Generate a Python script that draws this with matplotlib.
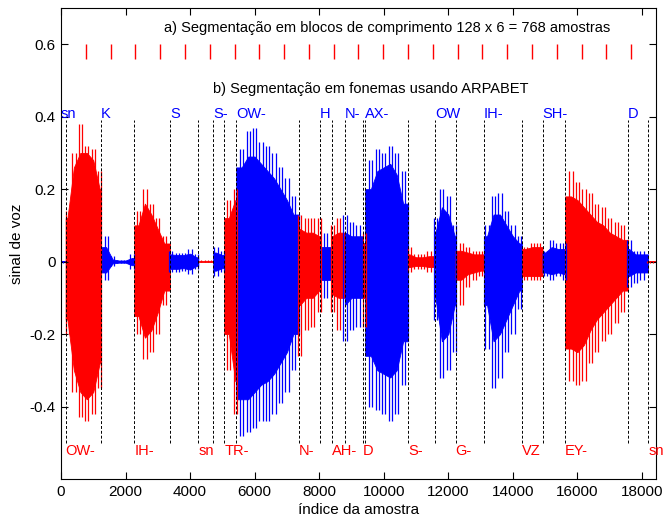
import numpy as np
import matplotlib.pyplot as plt

plt.rcParams['font.family'] = ['Liberation Sans', 'DejaVu Sans']
plt.rcParams['axes.unicode_minus'] = False

# envelope of the speech signal, every 200 samples
env_step = 200
env_top = [0.003, 0.14, 0.30, 0.38, 0.32, 0.31, 0.25, 0.07, 0.015, 0.005,
           0.005, 0.02, 0.14, 0.20, 0.16, 0.12, 0.07, 0.03, 0.025, 0.025,
           0.035, 0.02, 0.004, 0.004, 0.04, 0.03, 0.17, 0.20, 0.31, 0.36,
           0.37, 0.33, 0.32, 0.30, 0.26, 0.23, 0.18, 0.13, 0.12, 0.12,
           0.12, 0.08, 0.10, 0.12, 0.13, 0.11, 0.10, 0.08, 0.28, 0.31,
           0.30, 0.32, 0.30, 0.25, 0.04, 0.02, 0.02, 0.03, 0.12, 0.20,
           0.18, 0.10, 0.05, 0.04, 0.03, 0.03, 0.10, 0.18, 0.19, 0.14,
           0.10, 0.07, 0.04, 0.05, 0.05, 0.03, 0.06, 0.05, 0.05, 0.25,
           0.22, 0.20, 0.19, 0.16, 0.15, 0.12, 0.11, 0.10, 0.06, 0.03,
           0.03, 0.003, 0.003]
env_bot = [-0.003, -0.20, -0.36, -0.43, -0.44, -0.42, -0.35, -0.05, -0.012, -0.005,
           -0.005, -0.02, -0.20, -0.27, -0.25, -0.20, -0.12, -0.03, -0.03, -0.025,
           -0.035, -0.02, -0.002, -0.002, -0.04, -0.03, -0.30, -0.42, -0.48, -0.47,
           -0.46, -0.44, -0.44, -0.42, -0.39, -0.36, -0.30, -0.26, -0.19, -0.18,
           -0.14, -0.10, -0.14, -0.19, -0.22, -0.19, -0.18, -0.18, -0.40, -0.41,
           -0.42, -0.44, -0.42, -0.34, -0.03, -0.02, -0.02, -0.03, -0.16, -0.32,
           -0.30, -0.25, -0.12, -0.07, -0.05, -0.04, -0.24, -0.35, -0.32, -0.25,
           -0.20, -0.13, -0.05, -0.05, -0.05, -0.04, -0.05, -0.04, -0.05, -0.33,
           -0.34, -0.33, -0.28, -0.25, -0.22, -0.20, -0.17, -0.14, -0.07, -0.06,
           -0.05, -0.003, -0.003]
# dense (solid) part of the waveform
core_top = [0.001, 0.12, 0.26, 0.30, 0.30, 0.28, 0.20, 0.04, 0.006, 0.003,
            0.003, 0.01, 0.10, 0.16, 0.13, 0.09, 0.05, 0.02, 0.018, 0.018,
            0.022, 0.012, 0.003, 0.003, 0.025, 0.018, 0.12, 0.17, 0.26, 0.29,
            0.29, 0.27, 0.25, 0.23, 0.20, 0.17, 0.13, 0.09, 0.08, 0.08,
            0.07, 0.04, 0.07, 0.08, 0.08, 0.07, 0.07, 0.05, 0.20, 0.25,
            0.26, 0.27, 0.24, 0.16, 0.02, 0.012, 0.012, 0.015, 0.08, 0.15,
            0.13, 0.07, 0.03, 0.025, 0.02, 0.02, 0.07, 0.13, 0.13, 0.10,
            0.07, 0.05, 0.035, 0.04, 0.04, 0.025, 0.04, 0.035, 0.035, 0.18,
            0.17, 0.15, 0.13, 0.11, 0.10, 0.08, 0.07, 0.06, 0.035, 0.02,
            0.02, 0.001, 0.001]
core_bot = [-0.001, -0.16, -0.30, -0.36, -0.38, -0.36, -0.28, -0.03, -0.005, -0.003,
            -0.003, -0.01, -0.15, -0.21, -0.19, -0.14, -0.08, -0.02, -0.02, -0.018,
            -0.022, -0.012, 0.0, 0.0, -0.025, -0.018, -0.20, -0.33, -0.38, -0.38,
            -0.36, -0.34, -0.33, -0.31, -0.28, -0.25, -0.20, -0.12, -0.10, -0.10,
            -0.08, -0.05, -0.09, -0.10, -0.12, -0.10, -0.10, -0.10, -0.26, -0.30,
            -0.31, -0.32, -0.30, -0.22, -0.015, -0.012, -0.012, -0.015, -0.10, -0.22,
            -0.20, -0.12, -0.05, -0.035, -0.03, -0.025, -0.12, -0.22, -0.20, -0.16,
            -0.12, -0.08, -0.04, -0.04, -0.04, -0.03, -0.035, -0.03, -0.035, -0.24,
            -0.25, -0.23, -0.19, -0.16, -0.14, -0.12, -0.10, -0.08, -0.04, -0.03,
            -0.03, -0.001, -0.001]

# phoneme segmentation (start sample of each phoneme)
seg_start = [0, 146, 1239, 2270, 3376, 4252, 4717, 5057, 5429, 7380, 8030, 8383,
             8795, 9343, 9424, 10756, 11592, 12224, 13100, 14277, 14918, 15618,
             17569, 18188]
seg_label = ['sn', 'OW-', 'K', 'IH-', 'S', 'sn', 'S-', 'TR-', 'OW-', 'N-', 'H',
             'AH-', 'N-', 'D', 'AX-', 'S-', 'OW', 'G-', 'IH-', 'VZ', 'SH-', 'EY-',
             'D', 'sn']
n_samples = 18432
block_len = 768

fig = plt.figure(figsize=(6.65, 5.22), dpi=100)
ax = fig.add_axes([0.0917, 0.0824, 0.8947, 0.9023])

top = np.array(env_top)
bot = np.array(env_bot)
ctop = np.array(core_top)
cbot = np.array(core_bot)
x_env = np.arange(len(top)) * env_step
seg_end = seg_start[1:] + [n_samples]

for k, (a, b) in enumerate(zip(seg_start, seg_end)):
    col = 'b' if k % 2 == 0 else 'r'
    m = (x_env >= a) & (x_env < b)
    xs = x_env[m]
    if len(xs) == 0:
        continue
    # pitch pulses reaching the peaks
    ax.vlines(xs - 50, bot[m], top[m], colors=col, lw=0.9)
    ax.vlines(xs + 50, bot[m], top[m], colors=col, lw=0.9)
    # solid core
    fx = np.r_[a, xs, b]
    ft = np.r_[ctop[m][0], ctop[m], ctop[m][-1]]
    fb = np.r_[cbot[m][0], cbot[m], cbot[m][-1]]
    ax.fill_between(fx, fb, ft, color=col, lw=0.6)

# phoneme boundaries and labels
ax.vlines(seg_start[1:], -0.5, 0.39, colors='k', linestyles=(0, (3, 2)), lw=0.7, zorder=3)
for k, (s, lab) in enumerate(zip(seg_start, seg_label)):
    if k % 2 == 0:
        ax.text(s, 0.407, lab, color='b', fontsize=10.5, va='center', ha='left')
    else:
        ax.text(s, -0.522, lab, color='r', fontsize=10.5, va='center', ha='left')

# block segmentation
ax.vlines(np.arange(block_len, n_samples, block_len), 0.56, 0.6, colors='r', lw=1)

ax.text(3200, 0.644, 'a) Segmentação em blocos de comprimento 128 x 6 = 768 amostras',
        fontsize=10.5, va='center')
ax.text(4700, 0.476, 'b) Segmentação em fonemas usando ARPABET',
        fontsize=10.5, va='center')

ax.set_xlim(0, n_samples)
ax.set_ylim(-0.6, 0.7)
ax.set_xticks(np.arange(0, 18001, 2000))
yt = [-0.4, -0.2, 0, 0.2, 0.4, 0.6]
ax.set_yticks(yt)
ax.set_yticklabels([f'{v:g}' for v in yt])
ax.tick_params(direction='in', top=True, right=True, length=5, labelsize=11, pad=4)
ax.set_xlabel('índice da amostra', fontsize=11, labelpad=3)
ax.set_ylabel('sinal de voz', fontsize=11, labelpad=4)

fig.savefig('out.png', dpi=100)
